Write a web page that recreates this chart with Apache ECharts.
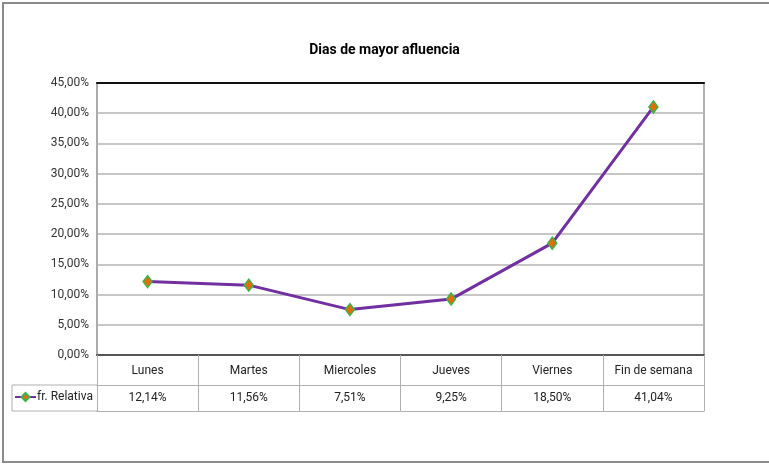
<!DOCTYPE html>
<html><head><meta charset="utf-8">
<script src="https://cdn.jsdelivr.net/npm/echarts@6/dist/echarts.min.js"></script>
<style>html,body{margin:0;padding:0;background:#fff}#c{width:769px;height:466px}</style>
</head><body><div id="c"></div>
<script>
const title = "Dias de mayor afluencia";
const seriesName = "fr. Relativa";
const categories = ["Lunes","Martes","Miercoles","Jueves","Viernes","Fin de semana"];
const values = [0.1214, 0.1156, 0.0751, 0.0925, 0.1850, 0.4104];
const valueLabels = ["12,14%","11,56%","7,51%","9,25%","18,50%","41,04%"];
const yMin = 0, yMax = 0.45, yStep = 0.05;

const FONT = "Roboto,'Open Sans',sans-serif";
const chart = echarts.init(document.getElementById('c'), null, {renderer:'canvas'});
const fmtPct = v => (v*100).toFixed(2).replace('.', ',') + '%';
const GRID = {left:97, right:65, top:83, bottom:111};
chart.setOption({
  animation:false,
  title:{text:title, left:'center', top:38, textStyle:{fontFamily:FONT, fontSize:14, fontWeight:'bold', color:'#000'}},
  grid:{...GRID, show:true, borderColor:'#9a9a9a', borderWidth:1.5},
  legend:{left:12, top:389, padding:[2,2,2,2], itemWidth:21, itemHeight:10, itemGap:2,
    textStyle:{fontFamily:FONT, fontSize:12, color:'#222', padding:[0,0,0,-4]}, data:[seriesName]},
  xAxis:[
    {type:'category', data:categories, position:'bottom', boundaryGap:true,
     axisLine:{lineStyle:{color:'#555', width:2}},
     axisTick:{show:true, interval:0, length:56, lineStyle:{color:'#b0b0b0', width:1}},
     axisLabel:{interval:0, margin:10, fontFamily:FONT, fontSize:12, color:'#222'}},
    {type:'category', data:valueLabels, position:'bottom', offset:30, boundaryGap:true,
     axisLine:{lineStyle:{color:'#b0b0b0', width:1}}, axisTick:{show:false},
     axisLabel:{interval:0, margin:7, fontFamily:FONT, fontSize:12, color:'#222'}},
    {type:'category', data:categories, position:'bottom', offset:56, boundaryGap:true,
     axisLine:{lineStyle:{color:'#b0b0b0', width:1}}, axisTick:{show:false}, axisLabel:{show:false}},
    {type:'category', data:categories, position:'top', boundaryGap:true,
     axisLine:{lineStyle:{color:'#111', width:2}}, axisTick:{show:false}, axisLabel:{show:false}}
  ],
  yAxis:{type:'value', min:yMin, max:yMax, interval:yStep,
    axisLine:{show:true, lineStyle:{color:'#a8a8a8', width:1.5}}, axisTick:{show:false},
    splitLine:{lineStyle:{color:'#b4b4b4', width:1.5}},
    axisLabel:{margin:8, fontFamily:FONT, fontSize:12, color:'#333', formatter:fmtPct}},
  series:[{name:seriesName, type:'line', data:values, xAxisIndex:0,
    lineStyle:{color:'#7030A0', width:3},
    itemStyle:{color:'#E46C0A', borderColor:'#3CB44B', borderWidth:1.5},
    symbol:'diamond', symbolSize:[9,12], showSymbol:true}],
  graphic:[
    {type:'rect', shape:{x:3, y:3, width:770, height:459}, style:{fill:'none', stroke:'#8a8a8a', lineWidth:2}, silent:true},
    {type:'line', shape:{x1:12, y1:385, x2:97, y2:385}, style:{stroke:'#b0b0b0', lineWidth:1}},
    {type:'line', shape:{x1:12, y1:411, x2:97, y2:411}, style:{stroke:'#b0b0b0', lineWidth:1}},
    {type:'line', shape:{x1:12, y1:385, x2:12, y2:411}, style:{stroke:'#b0b0b0', lineWidth:1}}
  ]
});
</script></body></html>
